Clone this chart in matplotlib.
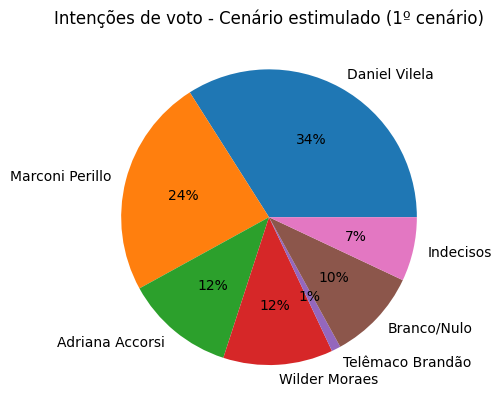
import matplotlib
matplotlib.use("Agg")
import matplotlib.pyplot as plt

candidatos = ["Daniel Vilela", "Marconi Perillo", "Adriana Accorsi", "Wilder Moraes",
              "Telêmaco Brandão", "Branco/Nulo", "Indecisos"]
votos = [34, 24, 12, 12, 1, 10, 7]

fig, ax = plt.subplots()
ax.pie(votos, labels=candidatos, autopct="%1.0f%%")
ax.set_title("Intenções de voto - Cenário estimulado (1º cenário)")
fig.savefig("out.png", bbox_inches="tight")
